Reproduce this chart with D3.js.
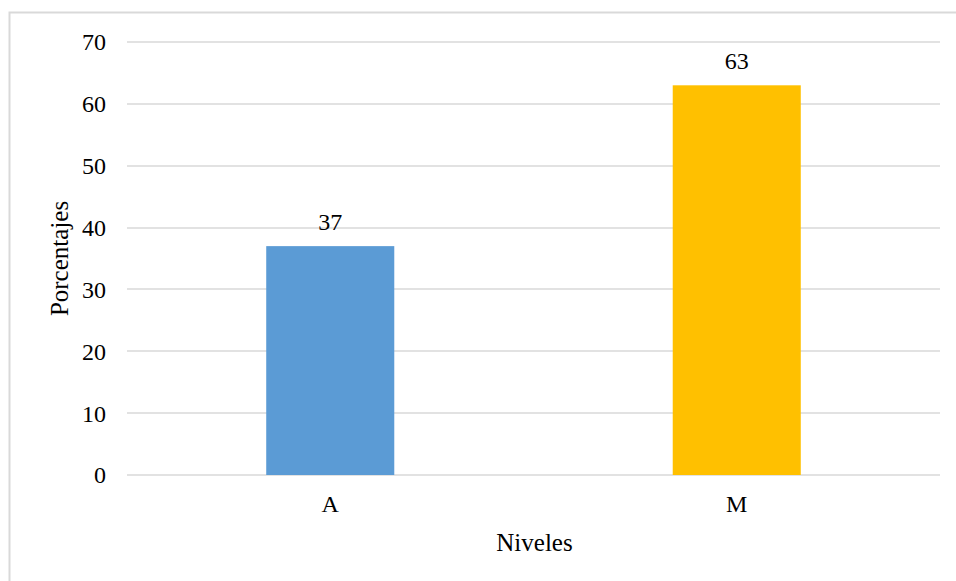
<!DOCTYPE html>
<html><head><meta charset="utf-8">
<script src="https://cdn.jsdelivr.net/npm/d3@7"></script>
<style>body{margin:0;background:#fff}svg{display:block}</style>
</head><body>
<script>
const categories = ["A", "M"];
const values = [37, 63];
const colors = ["#5B9BD5", "#FFC000"];
const yTicks = [0, 10, 20, 30, 40, 50, 60, 70];
const xTitle = "Niveles";
const yTitle = "Porcentajes";

const W = 956, H = 581;
const svg = d3.select("body").append("svg").attr("width", W).attr("height", H);
const font = "'Liberation Serif','Times New Roman',serif";

svg.append("rect").attr("x", 9.5).attr("y", 12.5).attr("width", 960).attr("height", 600)
  .attr("fill", "#fff").attr("stroke", "#d9d9d9").attr("stroke-width", 2);

const m = {left: 127, right: 940, top: 42, bottom: 475};
const x = d3.scaleBand().domain(categories).range([m.left, m.right]).padding(0);
const y = d3.scaleLinear().domain([0, 70]).range([m.bottom, m.top]);

// gridlines
svg.append("g").selectAll("line").data(yTicks).join("line")
  .attr("x1", m.left).attr("x2", m.right)
  .attr("y1", d => Math.round(y(d))).attr("y2", d => Math.round(y(d)))
  .attr("stroke", "#d9d9d9").attr("stroke-width", 1.5);

// y tick labels
svg.append("g").selectAll("text").data(yTicks).join("text")
  .attr("x", 106).attr("y", d => y(d)).attr("dy", "0.35em")
  .attr("text-anchor", "end").attr("font-family", font).attr("font-size", 24)
  .attr("fill", "#000").text(d => d);

// bars
const barW = x.bandwidth() * 0.315;
svg.append("g").selectAll("rect").data(values).join("rect")
  .attr("x", (d, i) => x(categories[i]) + x.bandwidth() / 2 - barW / 2)
  .attr("width", barW)
  .attr("y", d => y(d)).attr("height", d => y(0) - y(d))
  .attr("fill", (d, i) => colors[i]);

// value labels
svg.append("g").selectAll("text").data(values).join("text")
  .attr("x", (d, i) => x(categories[i]) + x.bandwidth() / 2)
  .attr("y", d => y(d) - 16)
  .attr("text-anchor", "middle").attr("font-family", font).attr("font-size", 24)
  .attr("fill", "#000").text(d => d);

// category labels
svg.append("g").selectAll("text").data(categories).join("text")
  .attr("x", d => x(d) + x.bandwidth() / 2).attr("y", 512)
  .attr("text-anchor", "middle").attr("font-family", font).attr("font-size", 24)
  .attr("fill", "#000").text(d => d);

// axis titles
svg.append("text").attr("x", (m.left + m.right) / 2 + 1).attr("y", 551)
  .attr("text-anchor", "middle").attr("font-family", font).attr("font-size", 25)
  .attr("fill", "#000").text(xTitle);
svg.append("text").attr("transform", `translate(68,${(m.top + m.bottom) / 2}) rotate(-90)`)
  .attr("text-anchor", "middle").attr("font-family", font).attr("font-size", 25)
  .attr("fill", "#000").text(yTitle);
</script>
</body></html>
